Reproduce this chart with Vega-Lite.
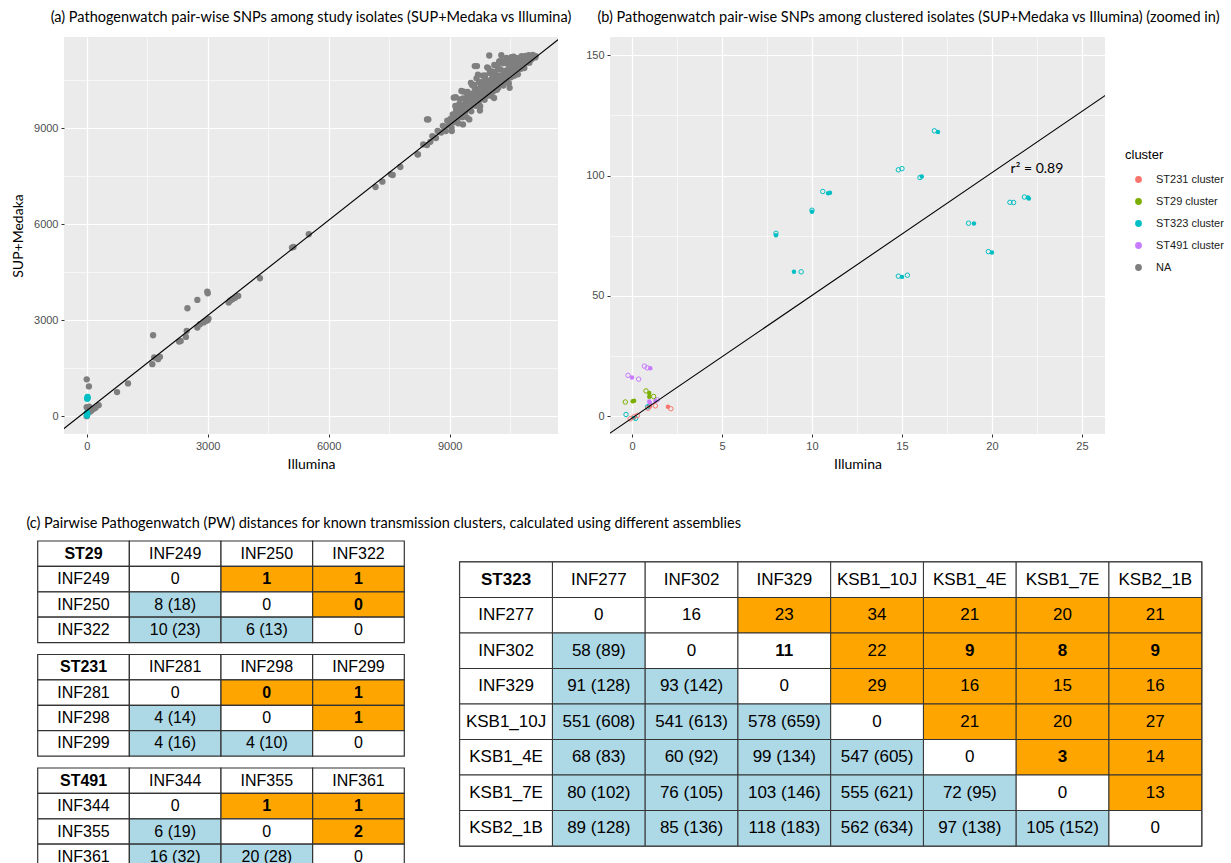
{
"$schema": "https://vega.github.io/schema/vega-lite/v6.json",
"padding": {"left": 11, "top": 9, "right": 0, "bottom": 0},
"background": "white",
"config": {
  "font": "Lato",
  "view": {"stroke": null},
  "axis": {"domain": false, "tickColor": "#333333", "tickSize": 3, "tickWidth": 1, "labelColor": "#4D4D4D", "labelFont": "Liberation Sans", "labelFontSize": 11, "labelPadding": 3, "titleFont": "Lato", "titleFontSize": 14, "titleFontWeight": "normal", "titleColor": "#000000", "gridColor": "#FFFFFF"},
  "title": {"font": "Lato", "fontSize": 14.5, "fontWeight": "normal", "color": "#000000"},
  "legend": {"titleFont": "Liberation Sans", "titleFontSize": 13, "titleFontWeight": "normal", "titleColor": "#000000", "labelFont": "Liberation Sans", "labelFontSize": 11, "labelColor": "#1A1A1A"}
},
"columns": 1,
"align": "none",
"spacing": 45,
"concat": [
{
  "hconcat": [
  {
    "width": 494, "height": 397,
    "view": {"fill": "#EBEBEB", "stroke": null},
    "title": {"text": "(a) Pathogenwatch pair-wise SNPs among study isolates (SUP+Medaka vs Illumina)", "offset": 12},
    "encoding": {
      "x": {"field": "illumina", "type": "quantitative", "scale": {"domain": [-563, 11685], "nice": false, "zero": false},
        "axis": {"title": "Illumina", "titlePadding": 6, "values": [0,1500,3000,4500,6000,7500,9000,10500], "format": "d",
          "labelExpr": "datum.value % 3000 === 0 ? datum.label : ''",
          "gridWidth": {"condition": {"test": "datum.value % 3000 === 0", "value": 1.2}, "value": 0.6},
          "tickOpacity": {"condition": {"test": "datum.value % 3000 === 0", "value": 1}, "value": 0}}},
      "y": {"field": "supmedaka", "type": "quantitative", "scale": {"domain": [-559, 11859], "nice": false, "zero": false},
        "axis": {"title": "SUP+Medaka", "titlePadding": 9, "minExtent": 30, "maxExtent": 30, "values": [0,1500,3000,4500,6000,7500,9000,10500], "format": "d",
          "labelExpr": "datum.value % 3000 === 0 ? datum.label : ''",
          "gridWidth": {"condition": {"test": "datum.value % 3000 === 0", "value": 1.2}, "value": 0.6},
          "tickOpacity": {"condition": {"test": "datum.value % 3000 === 0", "value": 1}, "value": 0}}}
    },
    "layer": [
      {
        "data": {"values": [
{"illumina":0,"supmedaka":1150,"cluster":"NA"},{"illumina":55,"supmedaka":930,"cluster":"NA"},{"illumina":0,"supmedaka":280,"cluster":"NA"},{"illumina":60,"supmedaka":300,"cluster":"NA"},{"illumina":297,"supmedaka":344,"cluster":"NA"},{"illumina":174,"supmedaka":229,"cluster":"NA"},{"illumina":120,"supmedaka":178,"cluster":"NA"},{"illumina":40,"supmedaka":120,"cluster":"NA"},{"illumina":10,"supmedaka":50,"cluster":"NA"},{"illumina":0,"supmedaka":0,"cluster":"NA"},{"illumina":80,"supmedaka":140,"cluster":"NA"},{"illumina":220,"supmedaka":260,"cluster":"NA"},{"illumina":752,"supmedaka":751,"cluster":"NA"},{"illumina":1024,"supmedaka":1022,"cluster":"NA"},
{"illumina":1646,"supmedaka":2531,"cluster":"NA"},{"illumina":1627,"supmedaka":1625,"cluster":"NA"},{"illumina":1674,"supmedaka":1833,"cluster":"NA"},{"illumina":1769,"supmedaka":1781,"cluster":"NA"},{"illumina":1816,"supmedaka":1854,"cluster":"NA"},{"illumina":2289,"supmedaka":2333,"cluster":"NA"},{"illumina":2330,"supmedaka":2350,"cluster":"NA"},{"illumina":2497,"supmedaka":3375,"cluster":"NA"},{"illumina":2479,"supmedaka":2667,"cluster":"NA"},{"illumina":2460,"supmedaka":2479,"cluster":"NA"},{"illumina":2743,"supmedaka":3635,"cluster":"NA"},{"illumina":2743,"supmedaka":2771,"cluster":"NA"},{"illumina":2809,"supmedaka":2875,"cluster":"NA"},{"illumina":2900,"supmedaka":2930,"cluster":"NA"},{"illumina":2951,"supmedaka":2979,"cluster":"NA"},{"illumina":2999,"supmedaka":3000,"cluster":"NA"},{"illumina":3020,"supmedaka":3050,"cluster":"NA"},{"illumina":2989,"supmedaka":3896,"cluster":"NA"},{"illumina":3000,"supmedaka":3844,"cluster":"NA"},{"illumina":3519,"supmedaka":3552,"cluster":"NA"},{"illumina":3560,"supmedaka":3620,"cluster":"NA"},{"illumina":3614,"supmedaka":3656,"cluster":"NA"},{"illumina":3680,"supmedaka":3700,"cluster":"NA"},{"illumina":3756,"supmedaka":3760,"cluster":"NA"},{"illumina":4295,"supmedaka":4312,"cluster":"NA"},{"illumina":5089,"supmedaka":5271,"cluster":"NA"},{"illumina":5127,"supmedaka":5292,"cluster":"NA"},{"illumina":5506,"supmedaka":5688,"cluster":"NA"},{"illumina":7161,"supmedaka":7167,"cluster":"NA"},{"illumina":7331,"supmedaka":7333,"cluster":"NA"},{"illumina":7540,"supmedaka":7563,"cluster":"NA"},{"illumina":7587,"supmedaka":7542,"cluster":"NA"},{"illumina":7776,"supmedaka":7792,"cluster":"NA"},{"illumina":8202,"supmedaka":8188,"cluster":"NA"},{"illumina":8213,"supmedaka":8186,"cluster":"NA"},{"illumina":8438,"supmedaka":9281,"cluster":"NA"},{"illumina":8470,"supmedaka":9281,"cluster":"NA"},{"illumina":8344,"supmedaka":8500,"cluster":"NA"},{"illumina":8438,"supmedaka":8479,"cluster":"NA"},
{"illumina":8520,"supmedaka":8580,"cluster":"NA"},{"illumina":8570,"supmedaka":8760,"cluster":"NA"},{"illumina":8610,"supmedaka":8720,"cluster":"NA"},{"illumina":8660,"supmedaka":8700,"cluster":"NA"},{"illumina":8700,"supmedaka":8920,"cluster":"NA"},{"illumina":8745,"supmedaka":8885,"cluster":"NA"},{"illumina":8790,"supmedaka":8870,"cluster":"NA"},{"illumina":8830,"supmedaka":9080,"cluster":"NA"},{"illumina":8870,"supmedaka":9030,"cluster":"NA"},{"illumina":8905,"supmedaka":8915,"cluster":"NA"},{"illumina":8940,"supmedaka":9240,"cluster":"NA"},{"illumina":8975,"supmedaka":9105,"cluster":"NA"},{"illumina":9010,"supmedaka":9220,"cluster":"NA"},{"illumina":9045,"supmedaka":9025,"cluster":"NA"},{"illumina":9053,"supmedaka":8917,"cluster":"NA"},{"illumina":9075,"supmedaka":9435,"cluster":"NA"},{"illumina":9100,"supmedaka":9960,"cluster":"NA"},{"illumina":9105,"supmedaka":9275,"cluster":"NA"},{"illumina":9130,"supmedaka":9200,"cluster":"NA"},{"illumina":9148,"supmedaka":9978,"cluster":"NA"},{"illumina":9160,"supmedaka":9590,"cluster":"NA"},{"illumina":9185,"supmedaka":9435,"cluster":"NA"},{"illumina":9210,"supmedaka":9160,"cluster":"NA"},{"illumina":9235,"supmedaka":9755,"cluster":"NA"},{"illumina":9260,"supmedaka":9450,"cluster":"NA"},{"illumina":9285,"supmedaka":9635,"cluster":"NA"},{"illumina":9290,"supmedaka":10170,"cluster":"NA"},{"illumina":9310,"supmedaka":9350,"cluster":"NA"},{"illumina":9329,"supmedaka":9124,"cluster":"NA"},{"illumina":9330,"supmedaka":9940,"cluster":"NA"},{"illumina":9355,"supmedaka":9635,"cluster":"NA"},{"illumina":9380,"supmedaka":9500,"cluster":"NA"},{"illumina":9400,"supmedaka":9880,"cluster":"NA"},{"illumina":9425,"supmedaka":9345,"cluster":"NA"},{"illumina":9445,"supmedaka":10145,"cluster":"NA"},{"illumina":9470,"supmedaka":9810,"cluster":"NA"},{"illumina":9485,"supmedaka":9280,"cluster":"NA"},{"illumina":9490,"supmedaka":9650,"cluster":"NA"},{"illumina":9515,"supmedaka":10065,"cluster":"NA"},{"illumina":9535,"supmedaka":9535,"cluster":"NA"},{"illumina":9555,"supmedaka":10355,"cluster":"NA"},{"illumina":9580,"supmedaka":9980,"cluster":"NA"},{"illumina":9600,"supmedaka":9820,"cluster":"NA"},{"illumina":9620,"supmedaka":10260,"cluster":"NA"},{"illumina":9621,"supmedaka":10948,"cluster":"NA"},{"illumina":9645,"supmedaka":9705,"cluster":"NA"},{"illumina":9665,"supmedaka":10565,"cluster":"NA"},{"illumina":9676,"supmedaka":10948,"cluster":"NA"},{"illumina":9690,"supmedaka":10140,"cluster":"NA"},{"illumina":9710,"supmedaka":9980,"cluster":"NA"},{"illumina":9730,"supmedaka":10450,"cluster":"NA"},{"illumina":9750,"supmedaka":9560,"cluster":"NA"},{"illumina":9755,"supmedaka":9695,"cluster":"NA"},{"illumina":9775,"supmedaka":10335,"cluster":"NA"},{"illumina":9795,"supmedaka":9975,"cluster":"NA"},{"illumina":9820,"supmedaka":10650,"cluster":"NA"},{"illumina":9840,"supmedaka":10200,"cluster":"NA"},{"illumina":9865,"supmedaka":9895,"cluster":"NA"},{"illumina":9885,"supmedaka":10545,"cluster":"NA"},{"illumina":9905,"supmedaka":10195,"cluster":"NA"},{"illumina":9930,"supmedaka":10910,"cluster":"NA"},{"illumina":9950,"supmedaka":10380,"cluster":"NA"},{"illumina":9970,"supmedaka":10080,"cluster":"NA"},{"illumina":9980,"supmedaka":11280,"cluster":"NA"},{"illumina":9995,"supmedaka":10735,"cluster":"NA"},{"illumina":10015,"supmedaka":10325,"cluster":"NA"},{"illumina":10040,"supmedaka":10010,"cluster":"NA"},{"illumina":10060,"supmedaka":10660,"cluster":"NA"},{"illumina":10085,"supmedaka":10455,"cluster":"NA"},{"illumina":10100,"supmedaka":9950,"cluster":"NA"},{"illumina":10105,"supmedaka":10985,"cluster":"NA"},{"illumina":10125,"supmedaka":10315,"cluster":"NA"},{"illumina":10150,"supmedaka":10650,"cluster":"NA"},{"illumina":10170,"supmedaka":10210,"cluster":"NA"},{"illumina":10195,"supmedaka":10915,"cluster":"NA"},{"illumina":10215,"supmedaka":10555,"cluster":"NA"},{"illumina":10238,"supmedaka":11104,"cluster":"NA"},{"illumina":10240,"supmedaka":10390,"cluster":"NA"},{"illumina":10260,"supmedaka":10840,"cluster":"NA"},{"illumina":10280,"supmedaka":11290,"cluster":"NA"},{"illumina":10285,"supmedaka":10545,"cluster":"NA"},{"illumina":10305,"supmedaka":11105,"cluster":"NA"},{"illumina":10330,"supmedaka":10340,"cluster":"NA"},{"illumina":10350,"supmedaka":10800,"cluster":"NA"},{"illumina":10375,"supmedaka":10595,"cluster":"NA"},{"illumina":10395,"supmedaka":11045,"cluster":"NA"},{"illumina":10420,"supmedaka":10550,"cluster":"NA"},{"illumina":10440,"supmedaka":10820,"cluster":"NA"},{"illumina":10465,"supmedaka":10415,"cluster":"NA"},{"illumina":10485,"supmedaka":11005,"cluster":"NA"},{"illumina":10486,"supmedaka":10270,"cluster":"NA"},{"illumina":10510,"supmedaka":10780,"cluster":"NA"},{"illumina":10530,"supmedaka":11230,"cluster":"NA"},{"illumina":10555,"supmedaka":10715,"cluster":"NA"},{"illumina":10575,"supmedaka":11005,"cluster":"NA"},{"illumina":10600,"supmedaka":10650,"cluster":"NA"},{"illumina":10620,"supmedaka":10950,"cluster":"NA"},{"illumina":10645,"supmedaka":11195,"cluster":"NA"},{"illumina":10665,"supmedaka":10865,"cluster":"NA"},{"illumina":10690,"supmedaka":10690,"cluster":"NA"},{"illumina":10710,"supmedaka":11110,"cluster":"NA"},{"illumina":10735,"supmedaka":10995,"cluster":"NA"},{"illumina":10760,"supmedaka":10880,"cluster":"NA"},{"illumina":10780,"supmedaka":11260,"cluster":"NA"},{"illumina":10805,"supmedaka":10995,"cluster":"NA"},{"illumina":10830,"supmedaka":11130,"cluster":"NA"},{"illumina":10850,"supmedaka":10890,"cluster":"NA"},{"illumina":10875,"supmedaka":11105,"cluster":"NA"},{"illumina":10900,"supmedaka":11250,"cluster":"NA"},{"illumina":10925,"supmedaka":11065,"cluster":"NA"},{"illumina":10950,"supmedaka":11200,"cluster":"NA"},{"illumina":10975,"supmedaka":11055,"cluster":"NA"},{"illumina":11000,"supmedaka":11190,"cluster":"NA"},{"illumina":11030,"supmedaka":11160,"cluster":"NA"},{"illumina":11060,"supmedaka":11300,"cluster":"NA"},{"illumina":11090,"supmedaka":11250,"cluster":"NA"},{"illumina":11120,"supmedaka":11220,"cluster":"NA"},{"illumina":11131,"supmedaka":11261,"cluster":"NA"},
{"illumina":9020,"supmedaka":9300,"cluster":"NA"},{"illumina":9070,"supmedaka":9210,"cluster":"NA"},{"illumina":9120,"supmedaka":9440,"cluster":"NA"},{"illumina":9170,"supmedaka":9280,"cluster":"NA"},{"illumina":9220,"supmedaka":9620,"cluster":"NA"},{"illumina":9270,"supmedaka":9500,"cluster":"NA"},{"illumina":9320,"supmedaka":9400,"cluster":"NA"},{"illumina":9370,"supmedaka":9750,"cluster":"NA"},{"illumina":9420,"supmedaka":9670,"cluster":"NA"},{"illumina":9460,"supmedaka":9920,"cluster":"NA"},{"illumina":9500,"supmedaka":9620,"cluster":"NA"},{"illumina":9545,"supmedaka":9885,"cluster":"NA"},{"illumina":9590,"supmedaka":10100,"cluster":"NA"},{"illumina":9630,"supmedaka":9860,"cluster":"NA"},{"illumina":9675,"supmedaka":10095,"cluster":"NA"},{"illumina":9720,"supmedaka":9790,"cluster":"NA"},{"illumina":9760,"supmedaka":10120,"cluster":"NA"},{"illumina":9805,"supmedaka":10335,"cluster":"NA"},{"illumina":9850,"supmedaka":10070,"cluster":"NA"},{"illumina":9890,"supmedaka":10330,"cluster":"NA"},{"illumina":9935,"supmedaka":10025,"cluster":"NA"},{"illumina":9980,"supmedaka":10330,"cluster":"NA"},{"illumina":10025,"supmedaka":10525,"cluster":"NA"},{"illumina":10070,"supmedaka":10310,"cluster":"NA"},{"illumina":10110,"supmedaka":10540,"cluster":"NA"},{"illumina":10160,"supmedaka":10450,"cluster":"NA"},{"illumina":10205,"supmedaka":10275,"cluster":"NA"},{"illumina":10250,"supmedaka":10650,"cluster":"NA"},{"illumina":10295,"supmedaka":10505,"cluster":"NA"},{"illumina":10340,"supmedaka":10690,"cluster":"NA"},{"illumina":10390,"supmedaka":10530,"cluster":"NA"},{"illumina":10430,"supmedaka":10720,"cluster":"NA"},{"illumina":10480,"supmedaka":10880,"cluster":"NA"},{"illumina":10520,"supmedaka":10700,"cluster":"NA"},{"illumina":10570,"supmedaka":10880,"cluster":"NA"},{"illumina":10610,"supmedaka":10830,"cluster":"NA"},{"illumina":10660,"supmedaka":11000,"cluster":"NA"},{"illumina":10700,"supmedaka":10860,"cluster":"NA"},
{"illumina":9140,"supmedaka":9700,"cluster":"NA"},{"illumina":9200,"supmedaka":9350,"cluster":"NA"},{"illumina":9250,"supmedaka":9910,"cluster":"NA"},{"illumina":9300,"supmedaka":9600,"cluster":"NA"},{"illumina":9350,"supmedaka":10150,"cluster":"NA"},{"illumina":9390,"supmedaka":9590,"cluster":"NA"},{"illumina":9435,"supmedaka":10055,"cluster":"NA"},{"illumina":9480,"supmedaka":9890,"cluster":"NA"},{"illumina":9525,"supmedaka":10425,"cluster":"NA"},{"illumina":9570,"supmedaka":9830,"cluster":"NA"},{"illumina":9610,"supmedaka":10360,"cluster":"NA"},{"illumina":9655,"supmedaka":9985,"cluster":"NA"},{"illumina":9700,"supmedaka":10680,"cluster":"NA"},{"illumina":9745,"supmedaka":10245,"cluster":"NA"},{"illumina":9790,"supmedaka":10450,"cluster":"NA"},{"illumina":9830,"supmedaka":9930,"cluster":"NA"},{"illumina":9875,"supmedaka":10655,"cluster":"NA"},{"illumina":9915,"supmedaka":10435,"cluster":"NA"},{"illumina":9960,"supmedaka":10880,"cluster":"NA"},{"illumina":10000,"supmedaka":10400,"cluster":"NA"},{"illumina":10045,"supmedaka":10785,"cluster":"NA"},{"illumina":10090,"supmedaka":10170,"cluster":"NA"},{"illumina":10135,"supmedaka":10775,"cluster":"NA"},{"illumina":10180,"supmedaka":10610,"cluster":"NA"},{"illumina":10225,"supmedaka":11085,"cluster":"NA"},{"illumina":10270,"supmedaka":10570,"cluster":"NA"},{"illumina":10315,"supmedaka":11035,"cluster":"NA"},{"illumina":10360,"supmedaka":10730,"cluster":"NA"},{"illumina":10405,"supmedaka":11205,"cluster":"NA"},{"illumina":10450,"supmedaka":10640,"cluster":"NA"},{"illumina":10495,"supmedaka":11095,"cluster":"NA"},{"illumina":10540,"supmedaka":10910,"cluster":"NA"},{"illumina":10585,"supmedaka":11245,"cluster":"NA"},{"illumina":10630,"supmedaka":10880,"cluster":"NA"},{"illumina":10675,"supmedaka":11195,"cluster":"NA"},{"illumina":10720,"supmedaka":11050,"cluster":"NA"},{"illumina":10765,"supmedaka":10865,"cluster":"NA"},{"illumina":10810,"supmedaka":11210,"cluster":"NA"},{"illumina":10860,"supmedaka":11140,"cluster":"NA"},{"illumina":10910,"supmedaka":11090,"cluster":"NA"},{"illumina":10960,"supmedaka":11290,"cluster":"NA"},
{"illumina":9180,"supmedaka":9230,"cluster":"NA"},{"illumina":9240,"supmedaka":9480,"cluster":"NA"},{"illumina":9300,"supmedaka":9420,"cluster":"NA"},{"illumina":9360,"supmedaka":9720,"cluster":"NA"},{"illumina":9410,"supmedaka":9600,"cluster":"NA"},{"illumina":9470,"supmedaka":9720,"cluster":"NA"},{"illumina":9530,"supmedaka":9960,"cluster":"NA"},{"illumina":9580,"supmedaka":9730,"cluster":"NA"},{"illumina":9640,"supmedaka":9980,"cluster":"NA"},{"illumina":9700,"supmedaka":9900,"cluster":"NA"},{"illumina":9760,"supmedaka":10240,"cluster":"NA"},{"illumina":9810,"supmedaka":10090,"cluster":"NA"},{"illumina":9870,"supmedaka":10010,"cluster":"NA"},{"illumina":9920,"supmedaka":10290,"cluster":"NA"},{"illumina":9980,"supmedaka":10190,"cluster":"NA"},{"illumina":10040,"supmedaka":10490,"cluster":"NA"},{"illumina":10100,"supmedaka":10370,"cluster":"NA"},{"illumina":10160,"supmedaka":10300,"cluster":"NA"},{"illumina":10220,"supmedaka":10580,"cluster":"NA"},{"illumina":10280,"supmedaka":10490,"cluster":"NA"},{"illumina":10340,"supmedaka":10470,"cluster":"NA"},{"illumina":10400,"supmedaka":10700,"cluster":"NA"},{"illumina":10460,"supmedaka":10880,"cluster":"NA"},{"illumina":10520,"supmedaka":10600,"cluster":"NA"},{"illumina":10580,"supmedaka":10820,"cluster":"NA"},{"illumina":10640,"supmedaka":11070,"cluster":"NA"},{"illumina":10700,"supmedaka":10990,"cluster":"NA"},{"illumina":10760,"supmedaka":11130,"cluster":"NA"},{"illumina":10820,"supmedaka":11000,"cluster":"NA"},{"illumina":10880,"supmedaka":11270,"cluster":"NA"},
{"illumina":20,"supmedaka":560,"cluster":"ST323 cluster"},{"illumina":22,"supmedaka":600,"cluster":"ST323 cluster"},{"illumina":12,"supmedaka":545,"cluster":"ST323 cluster"},{"illumina":15,"supmedaka":60,"cluster":"ST323 cluster"},{"illumina":10,"supmedaka":100,"cluster":"ST323 cluster"},{"illumina":5,"supmedaka":20,"cluster":"ST323 cluster"}
        ]},
        "mark": {"type": "point", "filled": true, "size": 40, "opacity": 1},
        "encoding": {"color": {"field": "cluster", "type": "nominal", "scale": {"domain": ["ST231 cluster","ST29 cluster","ST323 cluster","ST491 cluster","NA"], "range": ["#F8766D","#7CAE00","#00BFC4","#C77CFF","#7F7F7F"]}, "legend": null}}
      },
      {
        "data": {"values": [{"illumina": -700, "supmedaka": -525}, {"illumina": 11900, "supmedaka": 11987}]},
        "mark": {"type": "line", "color": "#000000", "strokeWidth": 1.1, "clip": true},
        "encoding": {}
      }
    ]
  },
  {
    "width": 495, "height": 397,
    "view": {"fill": "#EBEBEB", "stroke": null},
    "title": {"text": "(b) Pathogenwatch pair-wise SNPs among clustered isolates (SUP+Medaka vs Illumina) (zoomed in)", "offset": 12, "dx": 51},
    "encoding": {
      "x": {"field": "illumina", "type": "quantitative", "scale": {"domain": [-1.22, 26.28], "nice": false, "zero": false},
        "axis": {"title": "Illumina", "titlePadding": 6, "values": [0,2.5,5,7.5,10,12.5,15,17.5,20,22.5,25],
          "labelExpr": "datum.value % 5 === 0 ? datum.label : ''",
          "gridWidth": {"condition": {"test": "datum.value % 5 === 0", "value": 1.2}, "value": 0.6},
          "tickOpacity": {"condition": {"test": "datum.value % 5 === 0", "value": 1}, "value": 0}}},
      "y": {"field": "supmedaka", "type": "quantitative", "scale": {"domain": [-7.4, 157.6], "nice": false, "zero": false},
        "axis": {"title": null, "minExtent": 24, "maxExtent": 24, "values": [0,25,50,75,100,125,150],
          "labelExpr": "datum.value % 50 === 0 ? datum.label : ''",
          "gridWidth": {"condition": {"test": "datum.value % 50 === 0", "value": 1.2}, "value": 0.6},
          "tickOpacity": {"condition": {"test": "datum.value % 50 === 0", "value": 1}, "value": 0}}}
    },
    "layer": [
      {
        "data": {"values": [
{"illumina":17.0,"supmedaka":118.1,"cluster":"ST323 cluster"},{"illumina":16.1,"supmedaka":99.6,"cluster":"ST323 cluster"},{"illumina":10.9,"supmedaka":92.7,"cluster":"ST323 cluster"},{"illumina":11.0,"supmedaka":92.9,"cluster":"ST323 cluster"},{"illumina":10.0,"supmedaka":85.0,"cluster":"ST323 cluster"},{"illumina":8.0,"supmedaka":75.2,"cluster":"ST323 cluster"},{"illumina":9.0,"supmedaka":60.0,"cluster":"ST323 cluster"},{"illumina":15.0,"supmedaka":57.9,"cluster":"ST323 cluster"},{"illumina":19.0,"supmedaka":80.1,"cluster":"ST323 cluster"},{"illumina":20.0,"supmedaka":68.0,"cluster":"ST323 cluster"},{"illumina":22.0,"supmedaka":90.9,"cluster":"ST323 cluster"},{"illumina":22.05,"supmedaka":90.5,"cluster":"ST323 cluster"},{"illumina":0.1,"supmedaka":-0.7,"cluster":"ST323 cluster"},{"illumina":0.95,"supmedaka":4.3,"cluster":"ST323 cluster"},
{"illumina":1.02,"supmedaka":19.9,"cluster":"ST491 cluster"},{"illumina":0.0,"supmedaka":16.1,"cluster":"ST491 cluster"},{"illumina":0.96,"supmedaka":6.1,"cluster":"ST491 cluster"},{"illumina":1.3,"supmedaka":6.4,"cluster":"ST491 cluster"},{"illumina":1.0,"supmedaka":5.5,"cluster":"ST491 cluster"},
{"illumina":0.96,"supmedaka":9.6,"cluster":"ST29 cluster"},{"illumina":0.96,"supmedaka":8.1,"cluster":"ST29 cluster"},{"illumina":0.04,"supmedaka":6.2,"cluster":"ST29 cluster"},{"illumina":0.12,"supmedaka":6.4,"cluster":"ST29 cluster"},
{"illumina":2.0,"supmedaka":3.9,"cluster":"ST231 cluster"},{"illumina":1.0,"supmedaka":4.0,"cluster":"ST231 cluster"}
        ]},
        "mark": {"type": "point", "filled": true, "size": 20, "opacity": 1},
        "encoding": {"color": {"field": "cluster", "type": "nominal", "scale": {"domain": ["ST231 cluster","ST29 cluster","ST323 cluster","ST491 cluster","NA"], "range": ["#F8766D","#7CAE00","#00BFC4","#C77CFF","#7F7F7F"]},
          "legend": {"title": "cluster", "orient": "none", "legendX": 515, "legendY": 112, "symbolType": "circle", "symbolSize": 28, "symbolOffset": 8, "labelOffset": 12, "rowPadding": 9, "titlePadding": 12}}}
      },
      {
        "data": {"values": [
{"illumina":16.8,"supmedaka":118.6,"cluster":"ST323 cluster"},{"illumina":14.8,"supmedaka":102.4,"cluster":"ST323 cluster"},{"illumina":15.0,"supmedaka":102.9,"cluster":"ST323 cluster"},{"illumina":16.0,"supmedaka":99.2,"cluster":"ST323 cluster"},{"illumina":10.6,"supmedaka":93.4,"cluster":"ST323 cluster"},{"illumina":10.0,"supmedaka":85.6,"cluster":"ST323 cluster"},{"illumina":8.0,"supmedaka":76.0,"cluster":"ST323 cluster"},{"illumina":9.4,"supmedaka":60.0,"cluster":"ST323 cluster"},{"illumina":14.8,"supmedaka":58.2,"cluster":"ST323 cluster"},{"illumina":15.3,"supmedaka":58.6,"cluster":"ST323 cluster"},{"illumina":18.7,"supmedaka":80.2,"cluster":"ST323 cluster"},{"illumina":19.8,"supmedaka":68.4,"cluster":"ST323 cluster"},{"illumina":21.0,"supmedaka":88.9,"cluster":"ST323 cluster"},{"illumina":21.2,"supmedaka":88.8,"cluster":"ST323 cluster"},{"illumina":21.8,"supmedaka":91.1,"cluster":"ST323 cluster"},{"illumina":-0.33,"supmedaka":0.7,"cluster":"ST323 cluster"},{"illumina":0.2,"supmedaka":-0.9,"cluster":"ST323 cluster"},{"illumina":0.87,"supmedaka":3.9,"cluster":"ST323 cluster"},
{"illumina":0.69,"supmedaka":20.8,"cluster":"ST491 cluster"},{"illumina":0.85,"supmedaka":20.1,"cluster":"ST491 cluster"},{"illumina":-0.22,"supmedaka":17.0,"cluster":"ST491 cluster"},{"illumina":0.37,"supmedaka":15.4,"cluster":"ST491 cluster"},{"illumina":1.4,"supmedaka":6.8,"cluster":"ST491 cluster"},
{"illumina":0.78,"supmedaka":10.5,"cluster":"ST29 cluster"},{"illumina":1.2,"supmedaka":8.2,"cluster":"ST29 cluster"},{"illumina":-0.37,"supmedaka":5.9,"cluster":"ST29 cluster"},
{"illumina":2.16,"supmedaka":3.1,"cluster":"ST231 cluster"},{"illumina":1.3,"supmedaka":4.3,"cluster":"ST231 cluster"},{"illumina":0.89,"supmedaka":3.3,"cluster":"ST231 cluster"},{"illumina":-0.1,"supmedaka":-1.1,"cluster":"ST231 cluster"},{"illumina":0.1,"supmedaka":-0.3,"cluster":"ST231 cluster"},{"illumina":0.3,"supmedaka":0.3,"cluster":"ST231 cluster"}
        ]},
        "mark": {"type": "point", "filled": false, "size": 20, "strokeWidth": 1, "opacity": 1},
        "encoding": {"color": {"field": "cluster", "type": "nominal", "scale": {"domain": ["ST231 cluster","ST29 cluster","ST323 cluster","ST491 cluster","NA"], "range": ["#F8766D","#7CAE00","#00BFC4","#C77CFF","#7F7F7F"]}, "legend": null}}
      },
      {
        "data": {"values": [{"illumina": -1.5, "supmedaka": -8.45}, {"illumina": 27, "supmedaka": 136.9}]},
        "mark": {"type": "line", "color": "#000000", "strokeWidth": 1.1, "clip": true},
        "encoding": {}
      },
      {
        "data": {"values": [{"illumina": 22.5, "supmedaka": 102.6, "note": "r² = 0.89"}]},
        "mark": {"type": "text", "font": "Lato", "fontSize": 14, "color": "#000000"},
        "encoding": {"text": {"field": "note"}}
      }
    ]
  }
  ],
  "spacing": 13,
  "resolve": {"scale": {"x": "independent", "y": "independent"}, "legend": {"color": "independent"}}
},
{
  "title": {"text": "(c) Pairwise Pathogenwatch (PW) distances for known transmission clusters, calculated using different assemblies", "anchor": "start", "offset": 8.5, "dx": -10.7, "fontSize": 14.5},
  "hconcat": [
    {
      "vconcat": [
        {
          "width": 340.3, "height": 101.6,
          "view": {"stroke": null},
          "data": {"values": [
{"row":0,"col":0,"label":"ST29","cell":"header","bold":true},{"row":0,"col":1,"label":"INF249","cell":"header","bold":false},{"row":0,"col":2,"label":"INF250","cell":"header","bold":false},{"row":0,"col":3,"label":"INF322","cell":"header","bold":false},
{"row":1,"col":0,"label":"INF249","cell":"header","bold":false},{"row":1,"col":1,"label":"0","cell":"plain","bold":false},{"row":1,"col":2,"label":"1","cell":"upper","bold":true},{"row":1,"col":3,"label":"1","cell":"upper","bold":true},
{"row":2,"col":0,"label":"INF250","cell":"header","bold":false},{"row":2,"col":1,"label":"8 (18)","cell":"lower","bold":false},{"row":2,"col":2,"label":"0","cell":"plain","bold":false},{"row":2,"col":3,"label":"0","cell":"upper","bold":true},
{"row":3,"col":0,"label":"INF322","cell":"header","bold":false},{"row":3,"col":1,"label":"10 (23)","cell":"lower","bold":false},{"row":3,"col":2,"label":"6 (13)","cell":"lower","bold":false},{"row":3,"col":3,"label":"0","cell":"plain","bold":false}
          ]},
          "encoding": {
            "x": {"field": "col", "type": "ordinal", "scale": {"paddingInner": 0, "paddingOuter": 0, "range": [-26.3, 340.3]}, "axis": null},
            "y": {"field": "row", "type": "ordinal", "scale": {"paddingInner": 0, "paddingOuter": 0}, "axis": null}
          },
          "layer": [
            {"mark": {"type": "rect", "stroke": "#333333", "strokeWidth": 1.2}, "encoding": {"fill": {"field": "cell", "type": "nominal", "scale": {"domain": ["header","plain","upper","lower"], "range": ["#FFFFFF","#FFFFFF","#FFA500","#ADD8E6"]}, "legend": null}}},
            {"transform": [{"filter": "!datum.bold"}], "mark": {"type": "text", "font": "Liberation Sans", "fontSize": 16, "color": "#000000"}, "encoding": {"text": {"field": "label"}}},
            {"transform": [{"filter": "datum.bold"}], "mark": {"type": "text", "font": "Liberation Sans", "fontSize": 16, "fontWeight": "bold", "color": "#000000"}, "encoding": {"text": {"field": "label"}}}
          ]
        },
        {
          "width": 340.3, "height": 101.6,
          "view": {"stroke": null},
          "data": {"values": [
{"row":0,"col":0,"label":"ST231","cell":"header","bold":true},{"row":0,"col":1,"label":"INF281","cell":"header","bold":false},{"row":0,"col":2,"label":"INF298","cell":"header","bold":false},{"row":0,"col":3,"label":"INF299","cell":"header","bold":false},
{"row":1,"col":0,"label":"INF281","cell":"header","bold":false},{"row":1,"col":1,"label":"0","cell":"plain","bold":false},{"row":1,"col":2,"label":"0","cell":"upper","bold":true},{"row":1,"col":3,"label":"1","cell":"upper","bold":true},
{"row":2,"col":0,"label":"INF298","cell":"header","bold":false},{"row":2,"col":1,"label":"4 (14)","cell":"lower","bold":false},{"row":2,"col":2,"label":"0","cell":"plain","bold":false},{"row":2,"col":3,"label":"1","cell":"upper","bold":true},
{"row":3,"col":0,"label":"INF299","cell":"header","bold":false},{"row":3,"col":1,"label":"4 (16)","cell":"lower","bold":false},{"row":3,"col":2,"label":"4 (10)","cell":"lower","bold":false},{"row":3,"col":3,"label":"0","cell":"plain","bold":false}
          ]},
          "encoding": {
            "x": {"field": "col", "type": "ordinal", "scale": {"paddingInner": 0, "paddingOuter": 0, "range": [-26.3, 340.3]}, "axis": null},
            "y": {"field": "row", "type": "ordinal", "scale": {"paddingInner": 0, "paddingOuter": 0}, "axis": null}
          },
          "layer": [
            {"mark": {"type": "rect", "stroke": "#333333", "strokeWidth": 1.2}, "encoding": {"fill": {"field": "cell", "type": "nominal", "scale": {"domain": ["header","plain","upper","lower"], "range": ["#FFFFFF","#FFFFFF","#FFA500","#ADD8E6"]}, "legend": null}}},
            {"transform": [{"filter": "!datum.bold"}], "mark": {"type": "text", "font": "Liberation Sans", "fontSize": 16, "color": "#000000"}, "encoding": {"text": {"field": "label"}}},
            {"transform": [{"filter": "datum.bold"}], "mark": {"type": "text", "font": "Liberation Sans", "fontSize": 16, "fontWeight": "bold", "color": "#000000"}, "encoding": {"text": {"field": "label"}}}
          ]
        },
        {
          "width": 340.3, "height": 101.6,
          "view": {"stroke": null},
          "data": {"values": [
{"row":0,"col":0,"label":"ST491","cell":"header","bold":true},{"row":0,"col":1,"label":"INF344","cell":"header","bold":false},{"row":0,"col":2,"label":"INF355","cell":"header","bold":false},{"row":0,"col":3,"label":"INF361","cell":"header","bold":false},
{"row":1,"col":0,"label":"INF344","cell":"header","bold":false},{"row":1,"col":1,"label":"0","cell":"plain","bold":false},{"row":1,"col":2,"label":"1","cell":"upper","bold":true},{"row":1,"col":3,"label":"1","cell":"upper","bold":true},
{"row":2,"col":0,"label":"INF355","cell":"header","bold":false},{"row":2,"col":1,"label":"6 (19)","cell":"lower","bold":false},{"row":2,"col":2,"label":"0","cell":"plain","bold":false},{"row":2,"col":3,"label":"2","cell":"upper","bold":true},
{"row":3,"col":0,"label":"INF361","cell":"header","bold":false},{"row":3,"col":1,"label":"16 (32)","cell":"lower","bold":false},{"row":3,"col":2,"label":"20 (28)","cell":"lower","bold":false},{"row":3,"col":3,"label":"0","cell":"plain","bold":false}
          ]},
          "encoding": {
            "x": {"field": "col", "type": "ordinal", "scale": {"paddingInner": 0, "paddingOuter": 0, "range": [-26.3, 340.3]}, "axis": null},
            "y": {"field": "row", "type": "ordinal", "scale": {"paddingInner": 0, "paddingOuter": 0}, "axis": null}
          },
          "layer": [
            {"mark": {"type": "rect", "stroke": "#333333", "strokeWidth": 1.2}, "encoding": {"fill": {"field": "cell", "type": "nominal", "scale": {"domain": ["header","plain","upper","lower"], "range": ["#FFFFFF","#FFFFFF","#FFA500","#ADD8E6"]}, "legend": null}}},
            {"transform": [{"filter": "!datum.bold"}], "mark": {"type": "text", "font": "Liberation Sans", "fontSize": 16, "color": "#000000"}, "encoding": {"text": {"field": "label"}}},
            {"transform": [{"filter": "datum.bold"}], "mark": {"type": "text", "font": "Liberation Sans", "fontSize": 16, "fontWeight": "bold", "color": "#000000"}, "encoding": {"text": {"field": "label"}}}
          ]
        }
      ],
      "spacing": 9.5,
      "resolve": {"scale": {"x": "independent", "y": "independent"}}
    },
    {
      "vconcat": [
        {
          "width": 742, "height": 1,
          "view": {"stroke": null},
          "data": {"values": []},
          "mark": {"type": "point"}
        },
        {
          "width": 742, "height": 284,
          "view": {"stroke": "#333333", "strokeWidth": 1.5},
          "data": {"values": [
{"row":0,"col":0,"label":"ST323","cell":"header","bold":true},{"row":0,"col":1,"label":"INF277","cell":"header","bold":false},{"row":0,"col":2,"label":"INF302","cell":"header","bold":false},{"row":0,"col":3,"label":"INF329","cell":"header","bold":false},{"row":0,"col":4,"label":"KSB1_10J","cell":"header","bold":false},{"row":0,"col":5,"label":"KSB1_4E","cell":"header","bold":false},{"row":0,"col":6,"label":"KSB1_7E","cell":"header","bold":false},{"row":0,"col":7,"label":"KSB2_1B","cell":"header","bold":false},
{"row":1,"col":0,"label":"INF277","cell":"header","bold":false},{"row":1,"col":1,"label":"0","cell":"plain","bold":false},{"row":1,"col":2,"label":"16","cell":"plain","bold":false},{"row":1,"col":3,"label":"23","cell":"upper","bold":false},{"row":1,"col":4,"label":"34","cell":"upper","bold":false},{"row":1,"col":5,"label":"21","cell":"upper","bold":false},{"row":1,"col":6,"label":"20","cell":"upper","bold":false},{"row":1,"col":7,"label":"21","cell":"upper","bold":false},
{"row":2,"col":0,"label":"INF302","cell":"header","bold":false},{"row":2,"col":1,"label":"58 (89)","cell":"lower","bold":false},{"row":2,"col":2,"label":"0","cell":"plain","bold":false},{"row":2,"col":3,"label":"11","cell":"plain","bold":true},{"row":2,"col":4,"label":"22","cell":"upper","bold":false},{"row":2,"col":5,"label":"9","cell":"upper","bold":true},{"row":2,"col":6,"label":"8","cell":"upper","bold":true},{"row":2,"col":7,"label":"9","cell":"upper","bold":true},
{"row":3,"col":0,"label":"INF329","cell":"header","bold":false},{"row":3,"col":1,"label":"91 (128)","cell":"lower","bold":false},{"row":3,"col":2,"label":"93 (142)","cell":"lower","bold":false},{"row":3,"col":3,"label":"0","cell":"plain","bold":false},{"row":3,"col":4,"label":"29","cell":"upper","bold":false},{"row":3,"col":5,"label":"16","cell":"upper","bold":false},{"row":3,"col":6,"label":"15","cell":"upper","bold":false},{"row":3,"col":7,"label":"16","cell":"upper","bold":false},
{"row":4,"col":0,"label":"KSB1_10J","cell":"header","bold":false},{"row":4,"col":1,"label":"551 (608)","cell":"lower","bold":false},{"row":4,"col":2,"label":"541 (613)","cell":"lower","bold":false},{"row":4,"col":3,"label":"578 (659)","cell":"lower","bold":false},{"row":4,"col":4,"label":"0","cell":"plain","bold":false},{"row":4,"col":5,"label":"21","cell":"upper","bold":false},{"row":4,"col":6,"label":"20","cell":"upper","bold":false},{"row":4,"col":7,"label":"27","cell":"upper","bold":false},
{"row":5,"col":0,"label":"KSB1_4E","cell":"header","bold":false},{"row":5,"col":1,"label":"68 (83)","cell":"lower","bold":false},{"row":5,"col":2,"label":"60 (92)","cell":"lower","bold":false},{"row":5,"col":3,"label":"99 (134)","cell":"lower","bold":false},{"row":5,"col":4,"label":"547 (605)","cell":"lower","bold":false},{"row":5,"col":5,"label":"0","cell":"plain","bold":false},{"row":5,"col":6,"label":"3","cell":"upper","bold":true},{"row":5,"col":7,"label":"14","cell":"upper","bold":false},
{"row":6,"col":0,"label":"KSB1_7E","cell":"header","bold":false},{"row":6,"col":1,"label":"80 (102)","cell":"lower","bold":false},{"row":6,"col":2,"label":"76 (105)","cell":"lower","bold":false},{"row":6,"col":3,"label":"103 (146)","cell":"lower","bold":false},{"row":6,"col":4,"label":"555 (621)","cell":"lower","bold":false},{"row":6,"col":5,"label":"72 (95)","cell":"lower","bold":false},{"row":6,"col":6,"label":"0","cell":"plain","bold":false},{"row":6,"col":7,"label":"13","cell":"upper","bold":false},
{"row":7,"col":0,"label":"KSB2_1B","cell":"header","bold":false},{"row":7,"col":1,"label":"89 (128)","cell":"lower","bold":false},{"row":7,"col":2,"label":"85 (136)","cell":"lower","bold":false},{"row":7,"col":3,"label":"118 (183)","cell":"lower","bold":false},{"row":7,"col":4,"label":"562 (634)","cell":"lower","bold":false},{"row":7,"col":5,"label":"97 (138)","cell":"lower","bold":false},{"row":7,"col":6,"label":"105 (152)","cell":"lower","bold":false},{"row":7,"col":7,"label":"0","cell":"plain","bold":false}
          ]},
          "encoding": {
            "x": {"field": "col", "type": "ordinal", "scale": {"paddingInner": 0, "paddingOuter": 0}, "axis": null},
            "y": {"field": "row", "type": "ordinal", "scale": {"paddingInner": 0, "paddingOuter": 0}, "axis": null}
          },
          "layer": [
            {"mark": {"type": "rect", "stroke": "#333333", "strokeWidth": 1}, "encoding": {"fill": {"field": "cell", "type": "nominal", "scale": {"domain": ["header","plain","upper","lower"], "range": ["#FFFFFF","#FFFFFF","#FFA500","#ADD8E6"]}, "legend": null}}},
            {"transform": [{"filter": "!datum.bold"}], "mark": {"type": "text", "font": "Liberation Sans", "fontSize": 17, "color": "#000000"}, "encoding": {"text": {"field": "label"}}},
            {"transform": [{"filter": "datum.bold"}], "mark": {"type": "text", "font": "Liberation Sans", "fontSize": 17, "fontWeight": "bold", "color": "#000000"}, "encoding": {"text": {"field": "label"}}}
          ]
        }
      ],
      "spacing": 18,
      "resolve": {"scale": {"x": "independent", "y": "independent"}}
    }
  ],
  "spacing": 52.7,
  "resolve": {"scale": {"x": "independent", "y": "independent"}}
}
]
}
